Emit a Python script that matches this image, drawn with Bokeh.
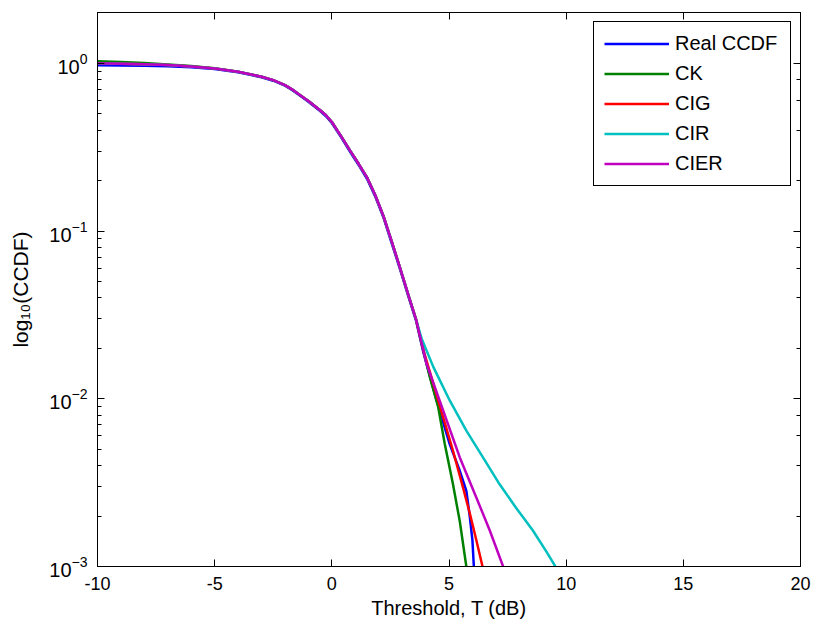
from bokeh.plotting import figure
from bokeh.models import (FixedTicker, LogTicker, LinearAxis, LogAxis, Legend,
                          LegendItem, Range1d, CustomJSTickFormatter)
from bokeh.embed import file_html
from bokeh.resources import INLINE

# ---------------- data ----------------
x_ticks = [-10, -5, 0, 5, 10, 15, 20]

# shared head of every curve (threshold in dB)
T_head = [-10, -9, -8, -7, -6, -5, -4, -3, -2.5, -2, -1.7, -1.35, -1.0, -0.5,
          -0.25, 0, 0.4, 0.78, 1.15, 1.5, 1.85, 2.2, 2.55, 2.9, 3.33, 3.6]
head_ccdf = [1.0, 0.995, 0.989, 0.977, 0.959, 0.933, 0.891, 0.832, 0.794,
             0.741, 0.700, 0.646, 0.596, 0.525, 0.49, 0.447, 0.367, 0.302,
             0.251, 0.209, 0.164, 0.123, 0.087, 0.061, 0.0389, 0.0295]
real_head = [0.973, 0.972, 0.969, 0.962, 0.948, 0.925, 0.886, 0.826, 0.788,
             0.736, 0.694, 0.640, 0.590, 0.519, 0.484, 0.441, 0.362, 0.297,
             0.247, 0.205, 0.161, 0.121, 0.085, 0.060, 0.0382, 0.0290]
ck_head = [1.028, 1.02, 1.005, 0.985, 0.963, 0.935, 0.892, 0.832, 0.794,
           0.741, 0.700, 0.646, 0.596, 0.525, 0.49, 0.447, 0.367, 0.302,
           0.251, 0.209, 0.164, 0.123, 0.087, 0.061, 0.0389, 0.0295]

# tails, where the curves separate
real_tail_T = [3.9, 4.47, 5.03, 5.46, 5.74, 5.89, 6.0, 6.06]
real_tail = [0.0191, 0.00977, 0.00537, 0.00372, 0.00282, 0.00197, 0.00143, 0.001]
ck_tail_T = [3.9, 4.18, 4.54, 4.82, 5.17, 5.46, 5.74]
ck_tail = [0.0195, 0.0135, 0.00891, 0.00537, 0.00309, 0.00186, 0.001]
cig_tail_T = [3.95, 4.33, 4.75, 5.17, 5.6, 5.89, 6.17, 6.43]
cig_tail = [0.0186, 0.0123, 0.00776, 0.0049, 0.00295, 0.00207, 0.00143, 0.001]
cir_tail_T = [3.83, 4.33, 5.03, 5.74, 6.45, 7.16, 7.86, 8.58, 9.15, 9.54]
cir_tail = [0.0229, 0.0155, 0.00977, 0.00646, 0.00447, 0.00309, 0.00224,
            0.00164, 0.00123, 0.001]
cier_tail_T = [4.04, 4.75, 5.46, 6.17, 6.74, 7.31]
cier_tail = [0.0162, 0.00851, 0.00447, 0.00257, 0.00164, 0.001]

series_names = ["Real CCDF", "CK", "CIG", "CIR", "CIER"]
series_colors = ["#0000FF", "#008000", "#FF0000", "#00BFBF", "#BF00BF"]
series_x = [T_head + real_tail_T, T_head + ck_tail_T, T_head + cig_tail_T,
            T_head + cir_tail_T, T_head + cier_tail_T]
series_y = [real_head + real_tail, ck_head + ck_tail, head_ccdf + cig_tail,
            head_ccdf + cir_tail, head_ccdf + cier_tail]

FONT = "Liberation Sans"

p = figure(width=816, height=630, x_range=Range1d(-10, 20),
           y_range=Range1d(1e-3, 2.01), y_axis_type="log",
           output_backend="svg", toolbar_location=None,
           min_border_left=97, min_border_right=16, min_border_top=12,
           min_border_bottom=64)
p.background_fill_color = "white"
p.border_fill_color = "white"
p.outline_line_color = "black"
p.outline_line_width = 1
p.outline_line_alpha = 1
p.xgrid.visible = False
p.ygrid.visible = False

xticker = FixedTicker(ticks=x_ticks)
xa = p.xaxis[0]
xa.ticker = xticker
xa.formatter = CustomJSTickFormatter(code="return String(tick)")
ya = p.yaxis[0]
for ax in (xa, ya):
    ax.axis_line_color = "black"
    ax.major_tick_line_color = "black"
    ax.minor_tick_line_color = "black"
    ax.major_tick_in = 7
    ax.major_tick_out = 0
    ax.minor_tick_in = 4
    ax.minor_tick_out = 0
    ax.major_label_text_font = FONT
    ax.major_label_text_color = "black"
    ax.axis_label_text_font = FONT
    ax.axis_label_text_font_style = "normal"
    ax.axis_label_text_color = "black"
    ax.axis_label_text_font_size = "20px"

xa.major_label_text_font_size = "18px"
xa.major_label_standoff = 10
xa.axis_label = "Threshold, T (dB)"
xa.axis_label_standoff = 4

ya.major_label_text_font_size = "20px"
ya.major_label_standoff = 10
ya.axis_label = "log\u2081\u2080(CCDF)"
ya.axis_label_text_font_size = "21px"
ya.axis_label_standoff = 14

blank = CustomJSTickFormatter(code="return ''")
top = LinearAxis(ticker=xticker, formatter=blank,
                 major_label_text_font_size="1px", major_label_text_alpha=0,
                 major_tick_in=7, major_tick_out=0, axis_line_color="black",
                 major_tick_line_color="black", major_label_standoff=0)
p.add_layout(top, "above")
right = LogAxis(ticker=LogTicker(), formatter=blank,
                major_label_text_font_size="1px", major_label_text_alpha=0,
                major_tick_in=7, major_tick_out=0, minor_tick_in=4,
                minor_tick_out=0, axis_line_color="black",
                major_tick_line_color="black", minor_tick_line_color="black",
                major_label_standoff=0)
p.add_layout(right, "right")

items = []
for name, color, xs, ys in zip(series_names, series_colors, series_x, series_y):
    r = p.line(xs, ys, line_color=color, line_width=2.5)
    items.append(LegendItem(label=name, renderers=[r]))

legend = Legend(items=items, location="top_right", margin=9,
                label_text_font=FONT, label_text_font_size="20px",
                label_text_color="black",
                glyph_width=65, glyph_height=21, label_height=21,
                label_width=105, label_standoff=6, spacing=7, padding=10,
                border_line_color="black", border_line_width=1,
                border_line_alpha=1,
                background_fill_color="white", background_fill_alpha=1)
p.add_layout(legend)

open("out.html", "w").write(file_html(p, INLINE))
